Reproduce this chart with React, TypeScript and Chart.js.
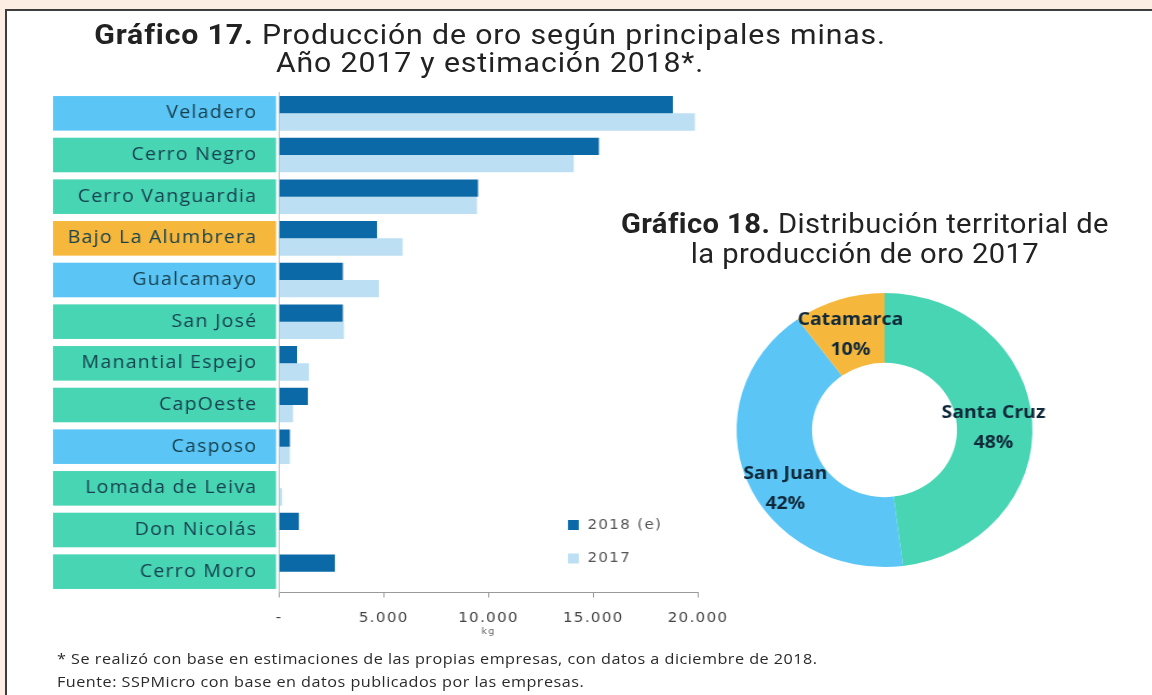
import React, { useEffect, useRef } from 'react';
import { Chart, registerables } from 'chart.js';

Chart.register(...registerables);

// ---------- data ----------
const mines = [
  'Veladero',
  'Cerro Negro',
  'Cerro Vanguardia',
  'Bajo La Alumbrera',
  'Gualcamayo',
  'San José',
  'Manantial Espejo',
  'CapOeste',
  'Casposo',
  'Lomada de Leiva',
  'Don Nicolás',
  'Cerro Moro',
];
const mineProvince = [
  'San Juan',
  'Santa Cruz',
  'Santa Cruz',
  'Catamarca',
  'San Juan',
  'Santa Cruz',
  'Santa Cruz',
  'Santa Cruz',
  'San Juan',
  'Santa Cruz',
  'Santa Cruz',
  'Santa Cruz',
];
const prod2018e = [18800, 15270, 9500, 4680, 3050, 3050, 860, 1380, 520, 0, 950, 2670];
const prod2017 = [19850, 14070, 9450, 5900, 4770, 3100, 1430, 670, 520, 150, 0, 0];
const xTickLabels = ['-', '5.000', '10.000', '15.000', '20.000'];

const provinces = ['Santa Cruz', 'San Juan', 'Catamarca'];
const provinceShare2017 = [48, 42, 10];

// ---------- styles ----------
const provinceColor: Record<string, string> = {
  'Santa Cruz': '#48d5b3',
  'San Juan': '#5bc6f5',
  Catamarca: '#f6b83c',
};
const STRETCH = 1.08;

const labelBoxPlugin = {
  id: 'labelBoxes',
  beforeDraw(chart: any, _a: any, opts: any) {
    const y = chart.scales.y;
    const ctx = chart.ctx;
    const n = y.ticks.length;
    const band = (y.bottom - y.top) / n;
    const h = band * opts.fill;
    ctx.save();
    for (let i = 0; i < n; i++) {
      const py = y.getPixelForTick(i);
      ctx.fillStyle = opts.colors[i];
      ctx.fillRect(opts.left, py - h / 2, opts.right - opts.left, h);
    }
    ctx.restore();
    ctx.letterSpacing = opts.letterSpacing;
  },
  afterDraw(chart: any) {
    chart.ctx.letterSpacing = '0px';
  },
};

const sideLegend = {
  id: 'sideLegend',
  afterDraw(chart: any, _a: any, opts: any) {
    const ctx = chart.ctx;
    ctx.save();
    ctx.letterSpacing = opts.letterSpacing;
    ctx.font = opts.font;
    ctx.textBaseline = 'middle';
    ctx.textAlign = 'left';
    chart.data.datasets.forEach((ds: any, i: number) => {
      const cy = opts.y + i * opts.spacing;
      ctx.fillStyle = ds.backgroundColor;
      ctx.fillRect(opts.x, cy - opts.box / 2, opts.box, opts.box);
      ctx.fillStyle = opts.color;
      ctx.fillText(ds.label, opts.x + opts.box + opts.gap, cy);
    });
    ctx.restore();
  },
};

const donutLabelPlugin = {
  id: 'donutLabels',
  afterDatasetsDraw(chart: any, _a: any, opts: any) {
    const meta = chart.getDatasetMeta(0);
    const ctx = chart.ctx;
    const ds = chart.data.datasets[0];
    ctx.save();
    ctx.font = opts.font;
    ctx.fillStyle = opts.color;
    ctx.textAlign = 'center';
    ctx.textBaseline = 'middle';
    meta.data.forEach((arc: any, i: number) => {
      const p = arc.tooltipPosition(false);
      const [dx, dy] = opts.nudge[i];
      ctx.fillText(chart.data.labels[i], p.x + dx, p.y + dy - opts.gap / 2);
      ctx.fillText(`${ds.data[i]}%`, p.x + dx, p.y + dy + opts.gap / 2);
    });
    ctx.restore();
  },
};

export default function App() {
  const barRef = useRef<HTMLCanvasElement>(null);
  const donutRef = useRef<HTMLCanvasElement>(null);

  useEffect(() => {
    const bar = new Chart(barRef.current as HTMLCanvasElement, {
      type: 'bar',
      data: {
        labels: mines,
        datasets: [
          {
            label: '2018 (e)',
            data: prod2018e,
            backgroundColor: '#0b69a7',
            borderWidth: 0,
            categoryPercentage: 0.83,
            barPercentage: 1,
          },
          {
            label: '2017',
            data: prod2017,
            backgroundColor: '#bcdff3',
            borderWidth: 0,
            categoryPercentage: 0.83,
            barPercentage: 1,
          },
        ],
      },
      options: {
        indexAxis: 'y',
        responsive: false,
        animation: false,
        layout: { padding: { top: 12.5, right: 53.7, bottom: 0, left: 0 } },
        scales: {
          x: {
            min: 0,
            max: 20000,
            ticks: {
              stepSize: 5000,
              callback: (_v: any, i: number) => xTickLabels[i],
              font: { family: 'DejaVu Sans', size: 14 },
              color: '#444',
              padding: 12,
              maxRotation: 0,
            },
            grid: { drawOnChartArea: false, drawTicks: true, tickLength: 5, color: '#9a9a9a' },
            border: { color: '#9a9a9a' },
            title: {
              display: true,
              text: 'kg',
              font: { family: 'DejaVu Sans', size: 9 },
              color: '#666',
              padding: { top: 0, bottom: 3 },
            },
            afterFit: (s: any) => {
              s.height = 47.5;
            },
          },
          y: {
            grid: { display: false, drawTicks: false },
            border: { display: true, color: '#bdbdbd' },
            ticks: {
              font: { family: 'Open Sans', size: 18 },
              color: '#17414f',
              padding: 20,
            },
            afterFit: (s: any) => {
              s.width = 258.3;
              s.paddingTop = 0;
              s.paddingBottom = 0;
            },
          },
        },
        plugins: {
          legend: { display: false },
          tooltip: { enabled: false },
          labelBoxes: {
            colors: mineProvince.map((p) => provinceColor[p]),
            left: 49.1,
            right: 255.6,
            fill: 0.83,
            letterSpacing: '1.2px',
          },
          sideLegend: {
            x: 525.9,
            y: 445,
            spacing: 33.5,
            box: 10,
            gap: 8,
            font: "14px 'DejaVu Sans'",
            color: '#555',
            letterSpacing: '1.2px',
          },
        } as any,
      },
      plugins: [labelBoxPlugin, sideLegend],
    } as any);

    const donut = new Chart(donutRef.current as HTMLCanvasElement, {
      type: 'doughnut',
      data: {
        labels: provinces,
        datasets: [
          {
            data: provinceShare2017,
            backgroundColor: provinces.map((p) => provinceColor[p]),
            borderWidth: 0,
          },
        ],
      },
      options: {
        responsive: false,
        animation: false,
        cutout: '49%',
        layout: { padding: 33 },
        plugins: {
          legend: { display: false },
          tooltip: { enabled: false },
          donutLabels: {
            font: "bold 18px 'Open Sans'",
            color: '#10293a',
            gap: 30,
            nudge: [
              [-1, 4],
              [3, 21],
              [0, 2],
            ],
          },
        } as any,
      },
      plugins: [donutLabelPlugin],
    } as any);

    return () => {
      bar.destroy();
      donut.destroy();
    };
  }, []);

  return (
    <div
      style={{
        position: 'absolute',
        left: 0,
        top: 0,
        width: 1152,
        height: 695,
        background: '#fdeee4',
        overflow: 'hidden',
      }}
    >
      <div
        style={{
          position: 'absolute',
          left: 5,
          top: 9,
          right: 0,
          bottom: 0,
          background: '#fff',
          borderLeft: '2px solid #3d3d3d',
          borderTop: '2px solid #3d3d3d',
        }}
      />
      <div
        style={{
          position: 'absolute',
          left: 0,
          top: 0,
          width: 1152 / STRETCH,
          height: 695,
          transform: `scaleX(${STRETCH})`,
          transformOrigin: '0 0',
        }}
      >
        <div
          style={{
            position: 'absolute',
            left: 0,
            top: 21,
            width: 907.4,
            textAlign: 'center',
            fontFamily: 'Roboto',
            fontSize: 28,
            letterSpacing: '0.8px',
            lineHeight: '28px',
            color: '#222',
            whiteSpace: 'nowrap',
          }}
        >
          <div>
            <b>Gráfico 17.</b> Producción de oro según principales minas.
          </div>
          <div>Año 2017 y estimación 2018*.</div>
        </div>

        <div
          style={{
            position: 'absolute',
            left: 520.9,
            top: 208.5,
            width: 560,
            textAlign: 'center',
            fontFamily: 'Roboto',
            fontSize: 27,
            letterSpacing: '0.4px',
            lineHeight: '30px',
            color: '#222',
            whiteSpace: 'nowrap',
          }}
        >
          <div>
            <b>Gráfico 18.</b> Distribución territorial de
          </div>
          <div>la producción de oro 2017</div>
        </div>

        <canvas
          ref={barRef}
          width={700}
          height={560}
          style={{ position: 'absolute', left: 0, top: 80 }}
        />
        <canvas
          ref={donutRef}
          width={340}
          height={340}
          style={{ position: 'absolute', left: 649.4, top: 260 }}
        />

        <div
          style={{
            position: 'absolute',
            left: 52.8,
            top: 647,
            fontFamily: 'Open Sans',
            fontSize: 15,
            letterSpacing: '0.45px',
            lineHeight: '23px',
            color: '#2a2a2a',
            whiteSpace: 'nowrap',
          }}
        >
          <div>* Se realizó con base en estimaciones de las propias empresas, con datos a diciembre de 2018.</div>
          <div>Fuente: SSPMicro con base en datos publicados por las empresas.</div>
        </div>
      </div>
    </div>
  );
}
